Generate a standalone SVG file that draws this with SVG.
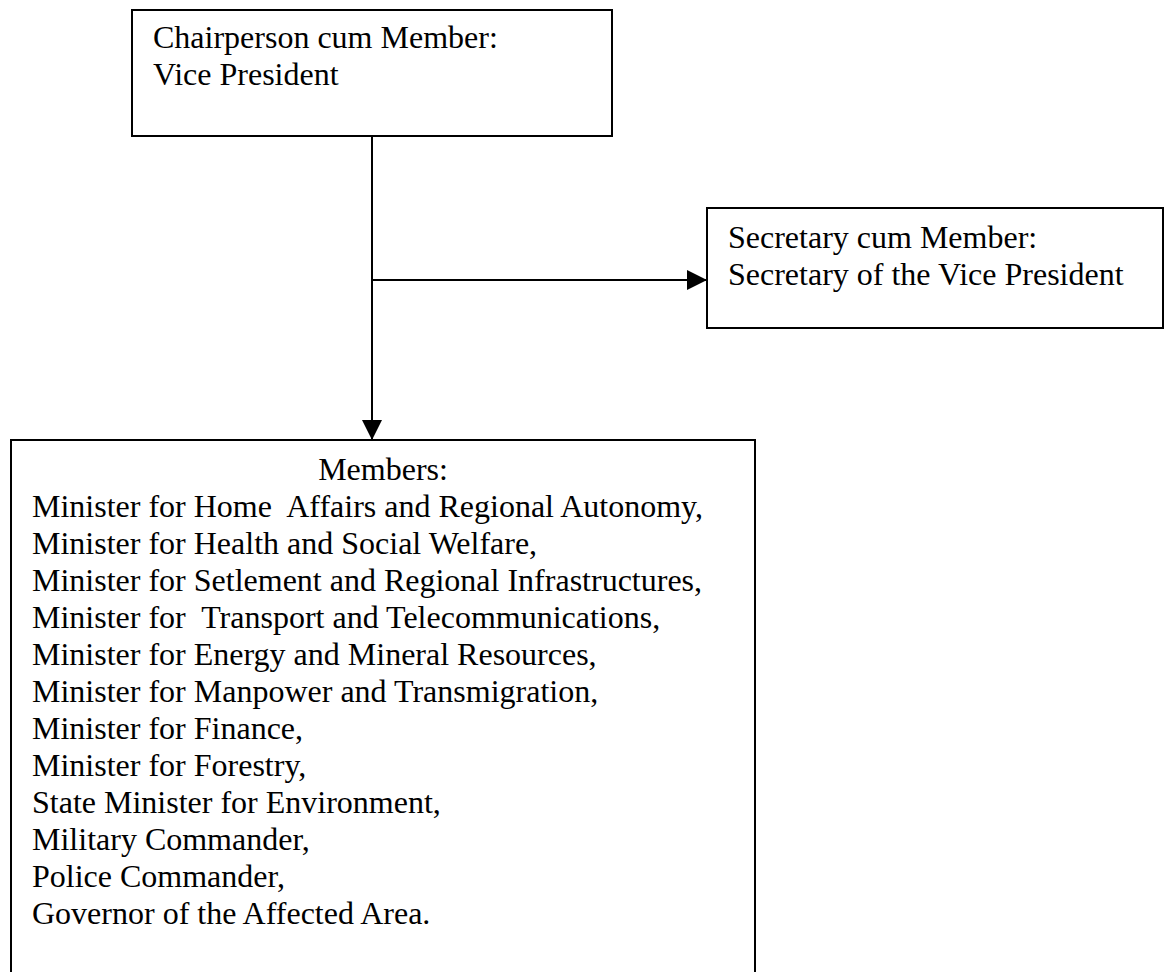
<svg xmlns="http://www.w3.org/2000/svg" width="1170" height="972" viewBox="0 0 1170 972">
  <style>
    .box { fill: #ffffff; stroke: #000000; stroke-width: 2; }
    .t { font-family: "Liberation Serif", "Times New Roman", serif; font-size: 32px; fill: #000000; white-space: pre; }
    .conn { stroke: #000000; stroke-width: 2; fill: none; }
  </style>
  <defs>
    <marker id="arrow" markerUnits="userSpaceOnUse" markerWidth="20" markerHeight="20" refX="20" refY="10" orient="auto">
      <path d="M0,0 L20,10 L0,20 Z" fill="#000000"/>
    </marker>
  </defs>
  <rect x="0" y="0" width="1170" height="972" fill="#ffffff"/>
  <g id="connectors">
    <line class="conn" x1="372" y1="136" x2="372" y2="440" marker-end="url(#arrow)"/>
    <line class="conn" x1="372" y1="280" x2="707" y2="280" marker-end="url(#arrow)"/>
  </g>
  <g id="chairperson">
    <rect class="box" x="132" y="10" width="480" height="126"/>
    <text class="t" x="153" y="48">Chairperson cum Member:</text>
    <text class="t" x="153" y="85">Vice President</text>
  </g>
  <g id="secretary">
    <rect class="box" x="707" y="208" width="456" height="120"/>
    <text class="t" x="728" y="248">Secretary cum Member:</text>
    <text class="t" x="728" y="285">Secretary of the Vice President</text>
  </g>
  <g id="members">
    <rect class="box" x="11" y="440" width="744" height="560"/>
    <text class="t" x="383" y="480" text-anchor="middle">Members:</text>
    <text class="t" x="32" y="517" xml:space="preserve">Minister for Home  Affairs and Regional Autonomy,</text>
    <text class="t" x="32" y="554">Minister for Health and Social Welfare,</text>
    <text class="t" x="32" y="591">Minister for Setlement and Regional Infrastructures,</text>
    <text class="t" x="32" y="628" xml:space="preserve">Minister for  Transport and Telecommunications,</text>
    <text class="t" x="32" y="665">Minister for Energy and Mineral Resources,</text>
    <text class="t" x="32" y="702">Minister for Manpower and Transmigration,</text>
    <text class="t" x="32" y="739">Minister for Finance,</text>
    <text class="t" x="32" y="776">Minister for Forestry,</text>
    <text class="t" x="32" y="813">State Minister for Environment,</text>
    <text class="t" x="32" y="850">Military Commander,</text>
    <text class="t" x="32" y="887">Police Commander,</text>
    <text class="t" x="32" y="924">Governor of the Affected Area.</text>
  </g>
</svg>
